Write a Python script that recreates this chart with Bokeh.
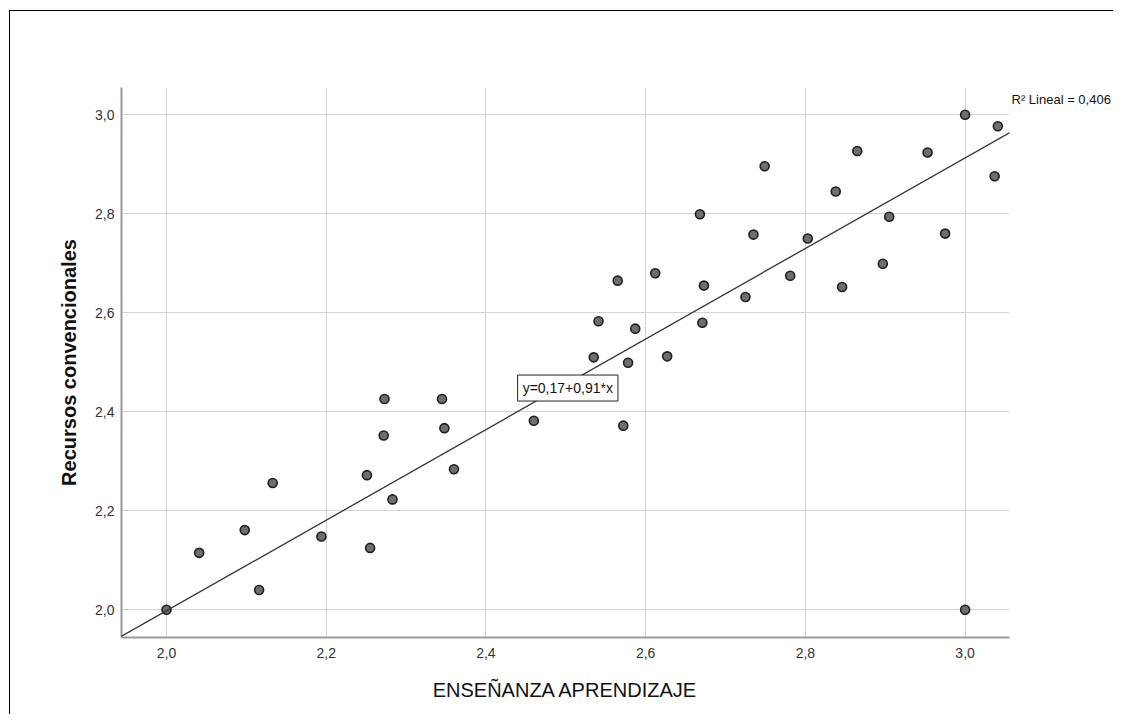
from bokeh.plotting import figure
from bokeh.models import Range1d, FixedTicker, Slope, Label, LinearAxis
from bokeh.embed import file_html
from bokeh.resources import INLINE

# ---- data ----
ensenanza = [2.000, 2.041, 2.098, 2.116, 2.133, 2.194, 2.251, 2.255, 2.272, 2.273,
             2.283, 2.345, 2.348, 2.360, 2.460, 2.535, 2.541, 2.565, 2.572, 2.578,
             2.587, 2.612, 2.627, 2.668, 2.671, 2.673, 2.725, 2.735, 2.749, 2.781,
             2.803, 2.838, 2.846, 2.865, 2.897, 2.905, 2.953, 2.975, 3.000, 3.000,
             3.037, 3.041]
recursos = [2.000, 2.115, 2.161, 2.040, 2.256, 2.148, 2.272, 2.125, 2.352, 2.426,
            2.223, 2.426, 2.367, 2.284, 2.382, 2.510, 2.583, 2.665, 2.372, 2.499,
            2.568, 2.680, 2.512, 2.799, 2.580, 2.655, 2.632, 2.758, 2.896, 2.675,
            2.750, 2.845, 2.652, 2.927, 2.699, 2.794, 2.924, 2.760, 3.000, 2.000,
            2.876, 2.977]

x_ticks = [2.0, 2.2, 2.4, 2.6, 2.8, 3.0]
x_tick_labels = ["2,0", "2,2", "2,4", "2,6", "2,8", "3,0"]
y_ticks = [2.0, 2.2, 2.4, 2.6, 2.8, 3.0]
y_tick_labels = ["2,0", "2,2", "2,4", "2,6", "2,8", "3,0"]

fit_intercept = 0.168
fit_slope = 0.915
fit_label = "y=0,17+0,91*x"
fit_label_pos = (2.5025, 2.448)
r2_label = "R\u00b2 Lineal = 0,406"
r2_label_y = 3.0315

x_title = "ENSEÑANZA APRENDIZAJE"
y_title = "Recursos convencionales"

FONT = "Liberation Sans"

p = figure(width=1104, height=704, output_backend="svg", toolbar_location=None,
           x_range=Range1d(1.9437, 3.0556), y_range=Range1d(1.944, 3.0552),
           min_border_left=111, min_border_right=105,
           min_border_top=76, min_border_bottom=78)
p.styles = {"border-top": "1px solid #000", "border-left": "1px solid #000",
            "margin-top": "10px", "margin-left": "9px"}
p.outline_line_color = None
p.background_fill_color = "white"
p.border_fill_color = "white"

for ax, ticks, labels in ((p.xaxis, x_ticks, x_tick_labels), (p.yaxis, y_ticks, y_tick_labels)):
    ax.ticker = FixedTicker(ticks=ticks)
    ax.major_label_overrides = dict(zip(ticks, labels))
    ax.major_tick_line_color = None
    ax.minor_tick_line_color = None
    ax.major_tick_out = 0
    ax.major_tick_in = 0
    ax.minor_tick_out = 0
    ax.axis_line_color = "#9a9a9a"
    ax.axis_line_width = 2
    ax.major_label_text_font = FONT
    ax.major_label_text_font_size = "14px"
    ax.major_label_text_color = "#333333"
    ax.axis_label_text_font = FONT
    ax.axis_label_text_font_size = "20px"
    ax.axis_label_text_color = "#111111"

p.xaxis.axis_label = x_title
p.xaxis.axis_label_text_font_style = "normal"
p.xaxis.major_label_standoff = 10
p.xaxis.axis_label_standoff = 18
p.yaxis.axis_label = y_title
p.yaxis.axis_label_text_font_style = "bold"
p.yaxis.major_label_standoff = 7
p.yaxis.axis_label_standoff = 12

p.grid.grid_line_color = "#d4d4d4"
p.grid.grid_line_width = 1

p.scatter(ensenanza, recursos, size=9, marker="circle",
          fill_color="#6e6e6e", line_color="#1e1e1e", line_width=1.6)

p.add_layout(Slope(gradient=fit_slope, y_intercept=fit_intercept,
                   line_color="#333333", line_width=1.3))

p.add_layout(Label(x=fit_label_pos[0], y=fit_label_pos[1], text=fit_label,
                   text_align="center", text_baseline="middle", text_font=FONT,
                   text_font_size="14px", text_color="#111111",
                   background_fill_color="white", border_line_color="#222222",
                   border_line_width=1, padding=5))

# R² note in the right margin, placed through a bare right-hand axis
r2_axis = LinearAxis(ticker=FixedTicker(ticks=[r2_label_y]),
                     major_label_overrides={r2_label_y: r2_label},
                     axis_line_color=None, major_tick_line_color=None,
                     minor_tick_line_color=None, major_tick_out=0, major_tick_in=0,
                     minor_tick_out=0, major_label_standoff=2,
                     major_label_text_font=FONT, major_label_text_font_size="13px",
                     major_label_text_color="#111111")
p.add_layout(r2_axis, "right")

open("out.html", "w").write(file_html(p, INLINE))
